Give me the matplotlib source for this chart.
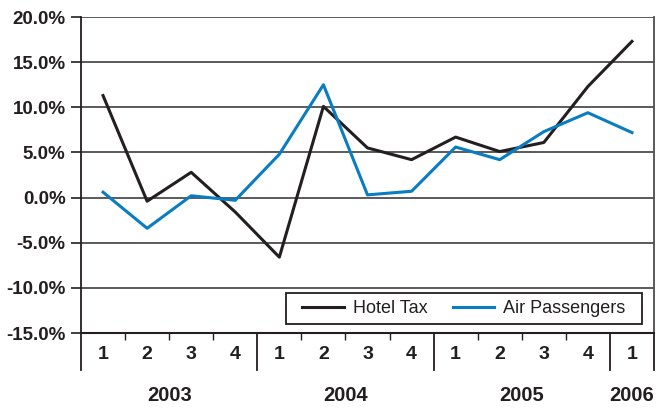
import matplotlib
matplotlib.use("Agg")
from matplotlib import pyplot as plt
from matplotlib.lines import Line2D

# quarterly growth, Q1 2003 .. Q1 2006
quarters = ["1", "2", "3", "4", "1", "2", "3", "4", "1", "2", "3", "4", "1"]
years = ["2003", "2004", "2005", "2006"]
year_pos = [1.5, 5.5, 9.5, 12]
hotel_tax = [11.3, -0.4, 2.8, -1.6, -6.6, 10.1, 5.5, 4.2, 6.7, 5.1, 6.1, 12.3, 17.3]
air_passengers = [0.6, -3.4, 0.2, -0.3, 4.8, 12.5, 0.3, 0.7, 5.6, 4.2, 7.3, 9.4, 7.2]
y_ticks = [-15, -10, -5, 0, 5, 10, 15, 20]

bold_font = ["Liberation Sans", "DejaVu Sans"]
plain_font = ["Liberation Sans", "DejaVu Sans"]

fig = plt.figure(figsize=(6.59, 4.08), dpi=100)
ax = fig.add_axes([0.1229, 0.1838, 0.8695, 0.7745])

x = list(range(len(quarters)))
ax.plot(x, hotel_tax, color="#231f20", lw=2.2, label="Hotel Tax", zorder=3)
ax.plot(x, air_passengers, color="#0a7cc1", lw=2.2, label="Air Passengers", zorder=3)

ax.set_xlim(-0.5, len(quarters) - 0.5)
ax.set_ylim(-15, 20)

# y axis
ax.set_yticks(y_ticks)
ax.set_yticklabels(["%.1f%%" % v for v in y_ticks], fontfamily=bold_font,
                   fontweight="bold", fontsize=13.5, color="#231f20")
ax.tick_params(axis="y", direction="out", length=7.5, width=1.2, pad=3.5, color="#231f20")
ax.grid(axis="y", color="#4d4d4d", lw=1.3, zorder=1)

# x axis: quarter labels, no major tick marks
ax.set_xticks(x)
ax.set_xticklabels(quarters, fontfamily=bold_font, fontweight="bold",
                   fontsize=14, color="#231f20")
ax.tick_params(axis="x", which="major", length=0, pad=9.5)
minor = [k - 0.5 for k in range(1, len(quarters)) if k % 4 != 0]
ax.set_xticks(minor, minor=True)
ax.tick_params(axis="x", which="minor", direction="out", length=5, width=1, color="#231f20")

ax.spines["top"].set_visible(False)
ax.spines["left"].set_color("#231f20")
ax.spines["left"].set_linewidth(1.3)
ax.spines["bottom"].set_color("#231f20")
ax.spines["bottom"].set_linewidth(1.5)
ax.spines["right"].set_color("#4d4d4d")
ax.spines["right"].set_linewidth(1.3)

# year separators below the axis
trans = ax.get_xaxis_transform()
for xs in [-0.5, 3.5, 7.5, 11.5, 12.5]:
    ax.add_line(Line2D([xs, xs], [0, -0.117], transform=trans, clip_on=False,
                       color="#231f20", lw=1.3))

for yr, xp in zip(years, year_pos):
    ax.text(xp, -0.198, yr, transform=trans, ha="center", va="center",
            fontfamily=bold_font, fontweight="bold", fontsize=14.5, color="#231f20")

leg = ax.legend(loc="lower right", bbox_to_anchor=(0.963, 0.028), borderaxespad=0,
                ncol=2, fancybox=False, framealpha=1, edgecolor="#231f20",
                prop={"family": plain_font, "size": 13},
                handlelength=2.3, handletextpad=0.5, columnspacing=1.4, borderpad=0.4)
frame = leg.get_frame()
frame.set_linewidth(1.3)
# extra side padding only
frame.set_boxstyle("square", pad=0.5)
frame.set_mutation_aspect(0.001)
for t in leg.get_texts():
    t.set_color("#231f20")

fig.savefig("out.png", dpi=100)
